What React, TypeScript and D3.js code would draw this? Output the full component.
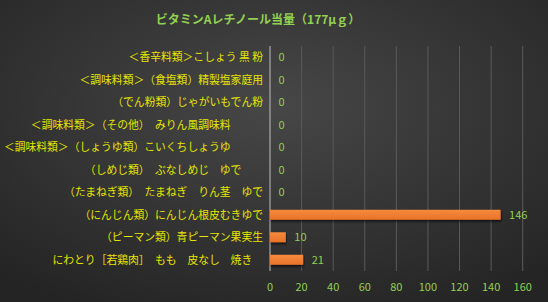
import React from "react";
import * as d3 from "d3";

const title = "ビタミンAレチノール当量（177μｇ）";
const categories = [
  "＜香辛料類＞こしょう 黒 粉",
  "＜調味料類＞（食塩類）精製塩家庭用",
  "（でん粉類）じゃがいもでん粉",
  "＜調味料類＞（その他）　みりん風調味料　　　",
  "＜調味料類＞（しょうゆ類）こいくちしょうゆ　　　",
  "（しめじ類）　ぶなしめじ　ゆで　　",
  "（たまねぎ類）　たまねぎ　りん茎　ゆで",
  "（にんじん類）にんじん根皮むきゆで",
  "（ピーマン類）青ピーマン果実生",
  "にわとり［若鶏肉］　もも　皮なし　焼き　",
];
const values = [0, 0, 0, 0, 0, 0, 0, 146, 10, 21];
const xTicks = [0, 20, 40, 60, 80, 100, 120, 140, 160];

const W = 548;
const H = 302;
const FONT = "'Noto Sans CJK JP', 'Noto Sans', sans-serif";

export default function App() {
  const x = d3.scaleLinear().domain([0, 160]).range([270, 522.7]);
  const y = d3
    .scaleBand<string>()
    .domain(categories)
    .range([46, 271])
    .paddingInner(0.556)
    .paddingOuter(0.278);

  const green = "#92D050";
  const yellow = "#E6E600";

  return (
    <svg
      width={W}
      height={H}
      style={{ position: "absolute", left: 0, top: 0 }}
      fontFamily={FONT}
    >
      <defs>
        <radialGradient id="bg" cx="50%" cy="35%" r="75%">
          <stop offset="0%" stopColor="#474747" />
          <stop offset="100%" stopColor="#242424" />
        </radialGradient>
        <linearGradient id="bar" x1="0" y1="0" x2="0" y2="1">
          <stop offset="0%" stopColor="#F58A3C" />
          <stop offset="100%" stopColor="#E8732A" />
        </linearGradient>
        <filter id="shadow" x="-5%" y="-50%" width="110%" height="250%">
          <feDropShadow dx="1" dy="2" stdDeviation="1.2" floodColor="#000" floodOpacity="0.6" />
        </filter>
      </defs>
      <rect x={0} y={0} width={W} height={H} fill="url(#bg)" />

      <text
        x={258}
        y={24}
        textAnchor="middle"
        fill={green}
        fontSize={12}
        fontWeight="bold"
      >
        {title}
      </text>

      {xTicks.map((t) => (
        <line
          key={"g" + t}
          x1={x(t)}
          x2={x(t)}
          y1={46}
          y2={271}
          stroke={t === 0 ? "#BFBFBF" : "#5A5A5A"}
          strokeWidth={1}
        />
      ))}

      {xTicks.map((t) => (
        <text
          key={"t" + t}
          x={x(t)}
          y={291}
          textAnchor="middle"
          fill={green}
          fontSize={11}
        >
          {t}
        </text>
      ))}

      {categories.map((c, i) => (
        <g key={c}>
          {values[i] > 0 && (
            <rect
              x={x(0)}
              y={y(c)!}
              width={x(values[i]) - x(0)}
              height={y.bandwidth()}
              fill="url(#bar)"
              filter="url(#shadow)"
            />
          )}
          <text
            x={263}
            y={y(c)! + y.bandwidth() / 2 + 4}
            textAnchor="end"
            fill={yellow}
            fontSize={10.8}
            style={{ whiteSpace: "pre" }}
          >
            {c}
          </text>
          <text
            x={x(values[i]) + 8.5}
            y={y(c)! + y.bandwidth() / 2 + 4}
            fill={green}
            fontSize={11}
          >
            {values[i]}
          </text>
        </g>
      ))}
    </svg>
  );
}
